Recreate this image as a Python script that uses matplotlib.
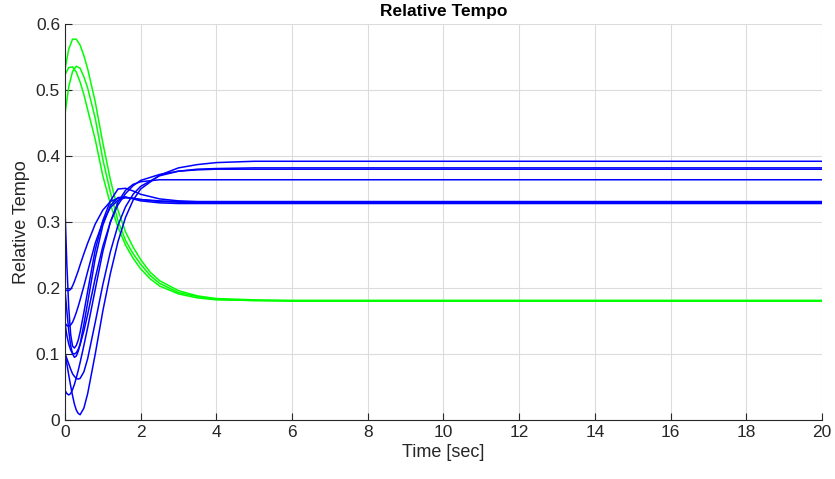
import numpy as np
import matplotlib
matplotlib.use('Agg')
import matplotlib.pyplot as plt

plt.rcParams['font.family'] = ['Liberation Sans', 'DejaVu Sans']

# tempos de amostragem das curvas
t_verde = [0, 0.1, 0.2, 0.3, 0.4, 0.5, 0.6, 0.8, 1.0, 1.2, 1.4, 1.6, 1.8,
           2.0, 2.25, 2.5, 3.0, 3.5, 4.0, 5.0, 6.0, 8.0, 20]
t_azul = [0, 0.05, 0.1, 0.15, 0.2, 0.25, 0.3, 0.35, 0.4, 0.5, 0.6, 0.8, 1.0,
          1.2, 1.4, 1.6, 1.8, 2.0, 2.5, 3.0, 3.5, 4.0, 5.0, 6.0, 20]

# curvas verdes
verde_a = [0.531, 0.562, 0.577, 0.577, 0.568, 0.552, 0.532, 0.482, 0.420, 0.364, 0.318, 0.285,
           0.262, 0.243, 0.224, 0.211, 0.196, 0.188, 0.184, 0.182, 0.181, 0.181, 0.181]
verde_b = [0.523, 0.534, 0.535, 0.527, 0.512, 0.493, 0.470, 0.425, 0.370, 0.327, 0.292, 0.265,
           0.245, 0.229, 0.214, 0.203, 0.191, 0.185, 0.182, 0.181, 0.180, 0.180, 0.180]
verde_c = [0.463, 0.505, 0.528, 0.536, 0.533, 0.520, 0.503, 0.457, 0.395, 0.345, 0.302, 0.272,
           0.252, 0.236, 0.219, 0.207, 0.193, 0.187, 0.183, 0.181, 0.181, 0.181, 0.181]

# curvas azuis
azul_1 = [0.198, 0.196, 0.196, 0.198, 0.203, 0.210, 0.218, 0.226, 0.235, 0.252, 0.268, 0.297, 0.318,
          0.331, 0.336, 0.337, 0.336, 0.334, 0.332, 0.331, 0.330, 0.330, 0.330, 0.330, 0.330]
azul_2 = [0.147, 0.143, 0.142, 0.144, 0.148, 0.155, 0.163, 0.172, 0.182, 0.203, 0.225, 0.268, 0.300,
          0.322, 0.333, 0.337, 0.336, 0.334, 0.331, 0.330, 0.329, 0.329, 0.329, 0.329, 0.329]
azul_3 = [0.321, 0.235, 0.170, 0.130, 0.112, 0.109, 0.113, 0.121, 0.133, 0.163, 0.195, 0.258, 0.302,
          0.332, 0.350, 0.351, 0.347, 0.342, 0.335, 0.332, 0.331, 0.331, 0.331, 0.331, 0.331]
azul_4 = [0.198, 0.165, 0.135, 0.113, 0.100, 0.095, 0.097, 0.104, 0.115, 0.145, 0.178, 0.245, 0.295,
          0.325, 0.337, 0.338, 0.335, 0.332, 0.329, 0.328, 0.328, 0.328, 0.328, 0.328, 0.328]
azul_5 = [0.045, 0.040, 0.038, 0.040, 0.046, 0.054, 0.064, 0.075, 0.087, 0.113, 0.140, 0.198, 0.255,
          0.300, 0.330, 0.348, 0.357, 0.361, 0.364, 0.364, 0.364, 0.364, 0.364, 0.364, 0.364]
azul_6 = [0.101, 0.093, 0.085, 0.077, 0.070, 0.066, 0.063, 0.062, 0.063, 0.073, 0.093, 0.148, 0.205,
          0.255, 0.295, 0.323, 0.342, 0.354, 0.370, 0.377, 0.380, 0.381, 0.382, 0.382, 0.382]
azul_7 = [0.101, 0.085, 0.068, 0.052, 0.037, 0.024, 0.015, 0.010, 0.008, 0.018, 0.040, 0.100, 0.165,
          0.222, 0.270, 0.307, 0.333, 0.350, 0.371, 0.382, 0.387, 0.390, 0.392, 0.392, 0.392]
azul_8 = [0.147, 0.128, 0.115, 0.106, 0.101, 0.100, 0.102, 0.107, 0.114, 0.135, 0.160, 0.215, 0.263,
          0.300, 0.326, 0.343, 0.355, 0.363, 0.372, 0.377, 0.379, 0.380, 0.380, 0.380, 0.380]

verdes = [verde_a, verde_b, verde_c]
azuis = [azul_1, azul_2, azul_3, azul_4, azul_5, azul_6, azul_7, azul_8]

fig = plt.figure(figsize=(8.35, 4.79), dpi=100)
ax = fig.add_axes([0.0778, 0.1232, 0.9066, 0.8267])

for y in verdes:
    ax.plot(t_verde, y, color='#00ff00', linewidth=1.1)
for y in azuis:
    ax.plot(t_azul, y, color='#0000ff', linewidth=1.1)

ax.set_xlim(0, 20)
ax.set_ylim(0, 0.6)
ax.set_xticks(np.arange(0, 21, 2))
ax.set_yticks(np.arange(0, 0.61, 0.1))
ax.set_yticklabels(['0', '0.1', '0.2', '0.3', '0.4', '0.5', '0.6'])
ax.grid(True, color='#dcdcdc', linewidth=0.8)
ax.set_axisbelow(True)
for lado in ['top', 'right']:
    ax.spines[lado].set_visible(False)
for lado in ['left', 'bottom']:
    ax.spines[lado].set_color('#262626')
ax.tick_params(direction='in', length=5, labelsize=12.5, colors='#262626')
ax.set_xlabel('Time [sec]', fontsize=13, color='#262626', labelpad=3)
ax.set_ylabel('Relative Tempo', fontsize=13, color='#262626', labelpad=4)
ax.set_title('Relative Tempo', fontsize=12.5, fontweight='bold', pad=1, y=1.016)

fig.savefig('out.png', dpi=100)
